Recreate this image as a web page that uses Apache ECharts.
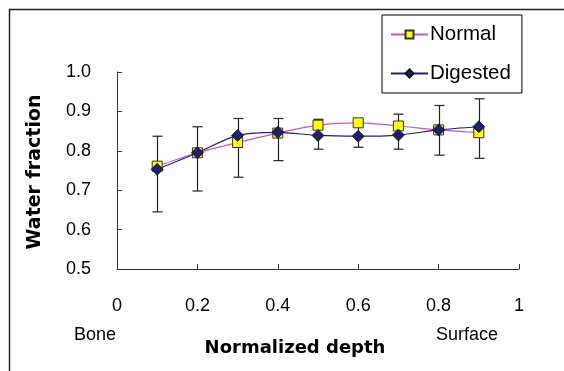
<!DOCTYPE html>
<html>
<head>
<meta charset="utf-8">
<script src="https://cdn.jsdelivr.net/npm/echarts@6/dist/echarts.min.js"></script>
<style>
	html, body {margin: 0; padding: 0; background: #fff}
	#chart {width: 564px; height: 371px}
</style>
</head>
<body>
<div id="chart"></div>
<script>
let depth = [0.1, 0.2, 0.3, 0.4, 0.5, 0.6, 0.7, 0.8, 0.9]
let normal = [0.761, 0.795, 0.821, 0.845, 0.865, 0.871, 0.863, 0.853, 0.846]
let digested = [0.753, 0.795, 0.839, 0.847, 0.839, 0.837, 0.840, 0.853, 0.861]
// error bar ends
let errLow = [0.645, 0.698, 0.733, 0.775, 0.804, 0.809, 0.804, 0.789, 0.781]
let errHigh = [0.837, 0.861, 0.882, 0.882, 0.880, 0.873, 0.893, 0.915, 0.932]
let xTicks = [0, 0.2, 0.4, 0.6, 0.8, 1]
let yTicks = [0.5, 0.6, 0.7, 0.8, 0.9, 1.0]

let font = "'Liberation Sans', Arial, sans-serif"
let boldFont = "'DejaVu Sans', Verdana, sans-serif"

function pairs(xs, ys) {
	return xs.map((x, i) => [x, ys[i]])
}

let errData = depth.map((x, i) => [x, errLow[i], errHigh[i]])

let chart = echarts.init(document.getElementById("chart"), null, {renderer: "canvas"})

let option = {
	animation: false,
	textStyle: {fontFamily: font},
	grid: {left: 117, right: 45, top: 72, bottom: 102},
	xAxis: {
		type: "value",
		min: xTicks[0],
		max: xTicks[xTicks.length - 1],
		interval: 0.2,
		splitLine: {show: false},
		axisLine: {onZero: false, lineStyle: {color: "#333", width: 1}},
		axisTick: {inside: true, length: 5, lineStyle: {color: "#333"}},
		axisLabel: {
			color: "#000", fontSize: 18, margin: 28, fontFamily: font,
			formatter: v => String(+v.toFixed(1))
		}
	},
	yAxis: {
		type: "value",
		min: yTicks[0],
		max: yTicks[yTicks.length - 1],
		interval: 0.1,
		splitLine: {show: false},
		axisLine: {show: true, lineStyle: {color: "#333", width: 1}},
		axisTick: {show: true, inside: true, length: 5, lineStyle: {color: "#333"}},
		axisLabel: {
			color: "#000", fontSize: 18, margin: 26, fontFamily: font,
			formatter: v => v.toFixed(1)
		}
	},
	legend: {
		orient: "vertical",
		left: 382,
		top: 15,
		padding: [9, 11, 9, 8],
		itemGap: 18,
		itemWidth: 37,
		itemHeight: 10,
		borderColor: "#000",
		borderWidth: 1,
		backgroundColor: "#fff",
		textStyle: {color: "#000", fontSize: 20.5, fontFamily: font, padding: [0, 0, 0, -3]},
		data: ["Normal", "Digested"]
	},
	series: [
		{
			name: "err",
			type: "custom",
			z: 1,
			silent: true,
			data: errData,
			renderItem: function (params, api) {
				let top = api.coord([api.value(0), api.value(2)])
				let bot = api.coord([api.value(0), api.value(1)])
				let x = Math.round(top[0]) + 0.5
				let half = 5
				let style = {stroke: "#222", lineWidth: 1.2}
				return {
					type: "group",
					children: [
						{type: "line", shape: {x1: x, y1: top[1], x2: x, y2: bot[1]}, style: style},
						{type: "line", shape: {x1: x - half, y1: top[1], x2: x + half, y2: top[1]}, style: style},
						{type: "line", shape: {x1: x - half, y1: bot[1], x2: x + half, y2: bot[1]}, style: style}
					]
				}
			}
		},
		{
			name: "Normal",
			type: "line",
			z: 3,
			smooth: 0.3,
			data: pairs(depth, normal),
			symbol: "rect",
			symbolSize: 10,
			lineStyle: {color: "#cc55bb", width: 1.2},
			itemStyle: {color: "#ffff00", borderColor: "#333", borderWidth: 1}
		},
		{
			name: "Digested",
			type: "line",
			z: 4,
			smooth: 0.3,
			data: pairs(depth, digested),
			symbol: "diamond",
			symbolSize: 12,
			lineStyle: {color: "#1f1f80", width: 1.2},
			itemStyle: {color: "#1f1f70", borderColor: "#111", borderWidth: 0.8}
		}
	],
	graphic: [
		{
			type: "rect",
			silent: true,
			shape: {x: 9.5, y: 9.5, width: 700, height: 500},
			style: {fill: null, stroke: "#222", lineWidth: 1.5}
		},
		{
			type: "text", x: 95, y: 335,
			style: {text: "Bone", font: "18px " + font, fill: "#000", align: "center", verticalAlign: "middle"}
		},
		{
			type: "text", x: 467, y: 335,
			style: {text: "Surface", font: "18px " + font, fill: "#000", align: "center", verticalAlign: "middle"}
		},
		{
			type: "text", x: 295, y: 348,
			style: {text: "Normalized depth", font: "bold 18px " + boldFont, fill: "#000", align: "center", verticalAlign: "middle"}
		},
		{
			type: "text", x: 35, y: 172, rotation: Math.PI / 2,
			style: {text: "Water fraction", font: "bold 19px " + boldFont, fill: "#000", align: "center", verticalAlign: "middle"}
		}
	]
}

chart.setOption(option)
window.onresize = chart.resize
</script>
</body>
</html>
